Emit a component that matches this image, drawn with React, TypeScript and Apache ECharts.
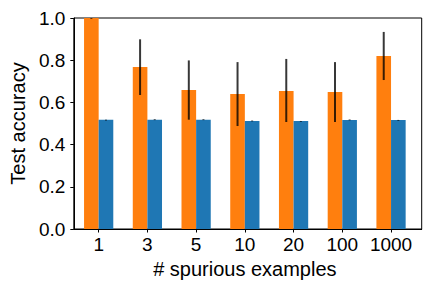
import React, { useEffect, useRef } from "react";
import * as echarts from "echarts";

const categories = ["1", "3", "5", "10", "20", "100", "1000"];
const orangeValues = [1.0, 0.768, 0.659, 0.64, 0.654, 0.649, 0.82];
const orangeLow = [1.0, 0.635, 0.518, 0.488, 0.507, 0.507, 0.706];
const orangeHigh = [1.0, 0.899, 0.799, 0.791, 0.806, 0.791, 0.934];
const blueValues = [0.518, 0.518, 0.518, 0.512, 0.512, 0.517, 0.517];
const blueLow = [0.518, 0.516, 0.516, 0.51, 0.512, 0.515, 0.517];
const blueHigh = [0.518, 0.52, 0.52, 0.514, 0.512, 0.519, 0.517];
const yTicks = [0, 0.2, 0.4, 0.6, 0.8, 1.0];

const FONT = "'Liberation Sans', Arial, sans-serif";

export default function App() {
  const ref = useRef<HTMLDivElement>(null);
  useEffect(() => {
    if (!ref.current) return;
    const chart = echarts.init(ref.current, null, { renderer: "svg" });
    const errData: number[][] = [];
    categories.forEach((_, i) => {
      errData.push([i, orangeLow[i], orangeHigh[i], -1]);
      errData.push([i, blueLow[i], blueHigh[i], 1]);
    });
    chart.setOption({
      animation: false,
      backgroundColor: "#ffffff",
      textStyle: { fontFamily: FONT },
      grid: [
        { left: 74.3, right: 16.6, top: 18, bottom: 59 },
        {
          left: 68,
          right: 10.3,
          top: 18,
          bottom: 59,
          show: true,
          borderColor: "#000",
          borderWidth: 1,
          backgroundColor: "transparent",
        },
      ],
      xAxis: [
        {
          type: "category",
          gridIndex: 0,
          data: categories,
          axisLine: { show: false },
          axisTick: {
            show: true,
            alignWithLabel: true,
            interval: 0,
            length: 3.5,
            lineStyle: { color: "#000", width: 1 },
          },
          axisLabel: {
            color: "#000",
            fontSize: 19,
            fontFamily: FONT,
            margin: 6,
            interval: 0,
          },
          name: "# spurious examples",
          nameLocation: "middle",
          nameGap: 28,
          nameTextStyle: { color: "#000", fontSize: 20, fontFamily: FONT },
        },
        {
          type: "value",
          gridIndex: 1,
          min: 0,
          max: 1,
          z: 10,
          axisLine: { show: true, lineStyle: { color: "#000", width: 1 } },
          axisTick: { show: false },
          axisLabel: { show: false },
          splitLine: { show: false },
        },
      ],
      yAxis: [
        {
          type: "value",
          gridIndex: 0,
          min: 0,
          max: 1,
          show: false,
          splitLine: { show: false },
        },
        {
          type: "value",
          gridIndex: 1,
          min: 0,
          max: 1,
          interval: 0.2,
          z: 10,
          axisLine: { show: true, lineStyle: { color: "#000", width: 1 } },
          axisTick: {
            show: true,
            length: 3.5,
            lineStyle: { color: "#000", width: 1 },
          },
          splitLine: { show: false },
          axisLabel: {
            color: "#000",
            fontSize: 19,
            fontFamily: FONT,
            margin: 8.5,
            formatter: (v: number) => {
              const t = yTicks.find((x) => Math.abs(x - v) < 1e-6);
              return (t !== undefined ? t : v).toFixed(1);
            },
          },
          name: "Test accuracy",
          nameLocation: "middle",
          nameGap: 43,
          nameRotate: 90,
          nameTextStyle: { color: "#000", fontSize: 20, fontFamily: FONT },
        },
      ],
      series: [
        {
          type: "bar",
          xAxisIndex: 0,
          yAxisIndex: 0,
          data: orangeValues,
          barWidth: "30%",
          barGap: "0%",
          itemStyle: { color: "#ff7f0e" },
        },
        {
          type: "bar",
          xAxisIndex: 0,
          yAxisIndex: 0,
          data: blueValues,
          barWidth: "30%",
          barGap: "0%",
          itemStyle: { color: "#1f77b4" },
        },
        {
          type: "custom",
          xAxisIndex: 0,
          yAxisIndex: 0,
          z: 5,
          data: errData,
          encode: { x: 0, y: [1, 2] },
          renderItem: (params: any, api: any) => {
            const idx = api.value(0);
            const lo = api.coord([idx, api.value(1)]);
            const hi = api.coord([idx, api.value(2)]);
            const band = api.size([1, 0])[0];
            const off = api.value(3) * band * 0.15;
            const h = Math.max(lo[1] - hi[1], 0.8);
            return {
              type: "line",
              shape: {
                x1: lo[0] + off,
                y1: hi[1] + h,
                x2: lo[0] + off,
                y2: hi[1],
              },
              style: { stroke: "rgba(0,0,0,0.78)", lineWidth: 2 },
            };
          },
        },
      ],
    });
    return () => chart.dispose();
  }, []);
  return <div ref={ref} style={{ width: 432, height: 288, position: "absolute", left: 0, top: 0 }} />;
}
